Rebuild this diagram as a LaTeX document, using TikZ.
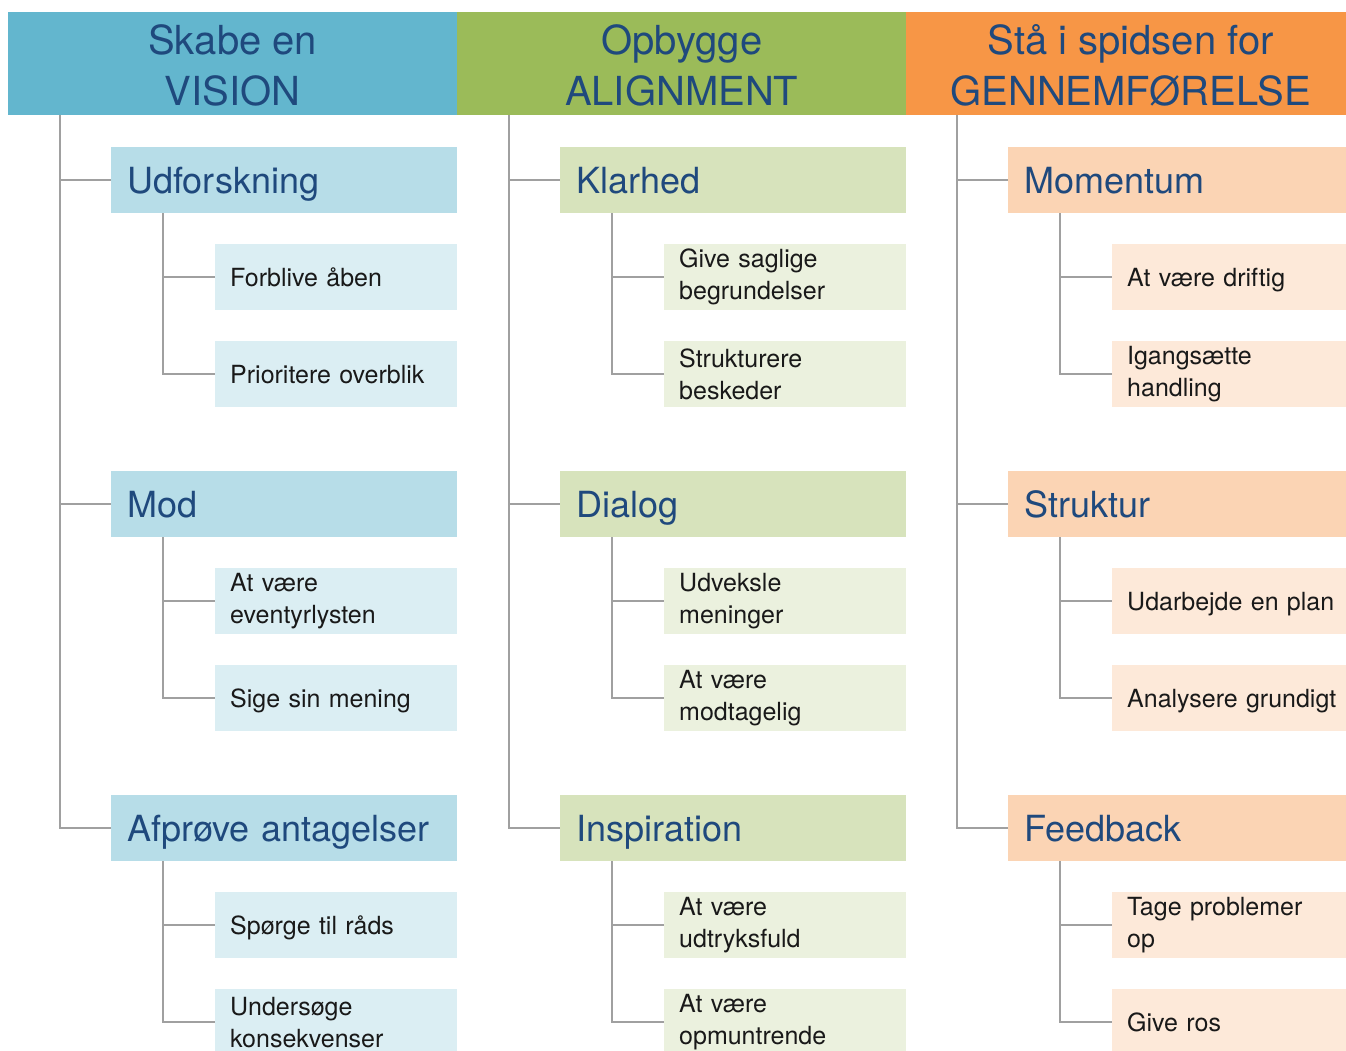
\documentclass[tikz,border=0pt]{standalone}
\usepackage{fontspec}
\setmainfont{TeX Gyre Heros}
\usetikzlibrary{positioning}
\definecolor{txtblue}{RGB}{31,73,125}
\definecolor{blueA}{RGB}{99,182,206}
\definecolor{blueB}{RGB}{183,221,232}
\definecolor{blueC}{RGB}{219,238,243}
\definecolor{greenA}{RGB}{155,187,89}
\definecolor{greenB}{RGB}{215,227,188}
\definecolor{greenC}{RGB}{235,241,222}
\definecolor{orangeA}{RGB}{247,150,70}
\definecolor{orangeB}{RGB}{251,212,180}
\definecolor{orangeC}{RGB}{253,233,217}
\definecolor{linegray}{RGB}{160,160,160}

\begin{document}
\begin{tikzpicture}[x=1pt, y=-1pt,
          head/.style={anchor=north west, minimum width=449pt, minimum height=103pt,
            inner sep=0pt, align=center, yshift=-2pt,
            text=txtblue, font=\fontsize{40}{51}\selectfont},
          topic/.style={anchor=north west, minimum height=66pt, inner xsep=16pt, inner ysep=0pt,
            text width=314pt, align=left, text height=32pt, text depth=6pt,
            text=txtblue, font=\fontsize{36}{42}\selectfont},
          item/.style={anchor=north west, minimum height=66pt, inner xsep=15pt, inner ysep=0pt,
            text width=212pt, align=left,
            text=black!90, font=\fontsize{25}{32}\selectfont},
          oneline/.style={item, text height=25pt, text depth=6pt},
          conn/.style={draw=linegray, line width=1.5pt}]
          \useasboundingbox (0,0) rectangle (1346,1050);
          \clip (0,0) rectangle (1346,1050);

          % Headers
          \fill[blueA] (8,12) rectangle (457,115);
          \fill[greenA] (457,12) rectangle (906,115);
          \fill[orangeA] (906,12) rectangle (1355,115);
          \node[head] (hA) at (8,12) {Skabe en\\VISION};
          \node[head] (hB) at (457,12) {Opbygge\\ALIGNMENT};
          \node[head] (hC) at (906,12) {Stå i spidsen for\\GENNEMFØRELSE};

          % Column 1
          \node[topic, fill=blueB] (a1) at (111,147) {Udforskning};
          \node[oneline, fill=blueC] (a11) at (215,244) {Forblive åben};
          \node[oneline, fill=blueC] (a12) at (215,341) {Prioritere overblik};
          \node[topic, fill=blueB] (a2) at (111,471) {Mod};
          \node[item, fill=blueC] (a21) at (215,568) {At være\\eventyrlysten};
          \node[oneline, fill=blueC] (a22) at (215,665) {Sige sin mening};
          \node[topic, fill=blueB] (a3) at (111,795) {Afprøve antagelser};
          \node[oneline, fill=blueC] (a31) at (215,892) {Spørge til råds};
          \node[item, fill=blueC] (a32) at (215,989) {Undersøge\\konsekvenser};

          % Column 2
          \node[topic, fill=greenB] (b1) at (560,147) {Klarhed};
          \node[item, fill=greenC] (b11) at (664,244) {Give saglige\\begrundelser};
          \node[item, fill=greenC] (b12) at (664,341) {Strukturere\\beskeder};
          \node[topic, fill=greenB] (b2) at (560,471) {Dialog};
          \node[item, fill=greenC] (b21) at (664,568) {Udveksle\\meninger};
          \node[item, fill=greenC] (b22) at (664,665) {At være\\modtagelig};
          \node[topic, fill=greenB] (b3) at (560,795) {Inspiration};
          \node[item, fill=greenC] (b31) at (664,892) {At være\\udtryksfuld};
          \node[item, fill=greenC] (b32) at (664,989) {At være\\opmuntrende};

          % Column 3
          \node[topic, fill=orangeB] (c1) at (1008,147) {Momentum};
          \node[oneline, fill=orangeC] (c11) at (1112,244) {At være driftig};
          \node[item, fill=orangeC] (c12) at (1112,341) {Igangsætte\\handling};
          \node[topic, fill=orangeB] (c2) at (1008,471) {Struktur};
          \node[oneline, fill=orangeC] (c21) at (1112,568) {Udarbejde en plan};
          \node[oneline, fill=orangeC] (c22) at (1112,665) {Analysere grundigt};
          \node[topic, fill=orangeB] (c3) at (1008,795) {Feedback};
          \node[item, fill=orangeC] (c31) at (1112,892) {Tage problemer\\op};
          \node[oneline, fill=orangeC] (c32) at (1112,989) {Give ros};

          % Tree lines
          \draw[conn] (60,115) |- (a1.west);
          \draw[conn] (60,115) |- (a2.west);
          \draw[conn] (60,115) |- (a3.west);
          \draw[conn] ([xshift=52pt]a1.south west) |- (a11.west);
          \draw[conn] ([xshift=52pt]a1.south west) |- (a12.west);
          \draw[conn] ([xshift=52pt]a2.south west) |- (a21.west);
          \draw[conn] ([xshift=52pt]a2.south west) |- (a22.west);
          \draw[conn] ([xshift=52pt]a3.south west) |- (a31.west);
          \draw[conn] ([xshift=52pt]a3.south west) |- (a32.west);

          \draw[conn] (509,115) |- (b1.west);
          \draw[conn] (509,115) |- (b2.west);
          \draw[conn] (509,115) |- (b3.west);
          \draw[conn] ([xshift=52pt]b1.south west) |- (b11.west);
          \draw[conn] ([xshift=52pt]b1.south west) |- (b12.west);
          \draw[conn] ([xshift=52pt]b2.south west) |- (b21.west);
          \draw[conn] ([xshift=52pt]b2.south west) |- (b22.west);
          \draw[conn] ([xshift=52pt]b3.south west) |- (b31.west);
          \draw[conn] ([xshift=52pt]b3.south west) |- (b32.west);

          \draw[conn] (957,115) |- (c1.west);
          \draw[conn] (957,115) |- (c2.west);
          \draw[conn] (957,115) |- (c3.west);
          \draw[conn] ([xshift=52pt]c1.south west) |- (c11.west);
          \draw[conn] ([xshift=52pt]c1.south west) |- (c12.west);
          \draw[conn] ([xshift=52pt]c2.south west) |- (c21.west);
          \draw[conn] ([xshift=52pt]c2.south west) |- (c22.west);
          \draw[conn] ([xshift=52pt]c3.south west) |- (c31.west);
          \draw[conn] ([xshift=52pt]c3.south west) |- (c32.west);
        \end{tikzpicture}
\end{document}
